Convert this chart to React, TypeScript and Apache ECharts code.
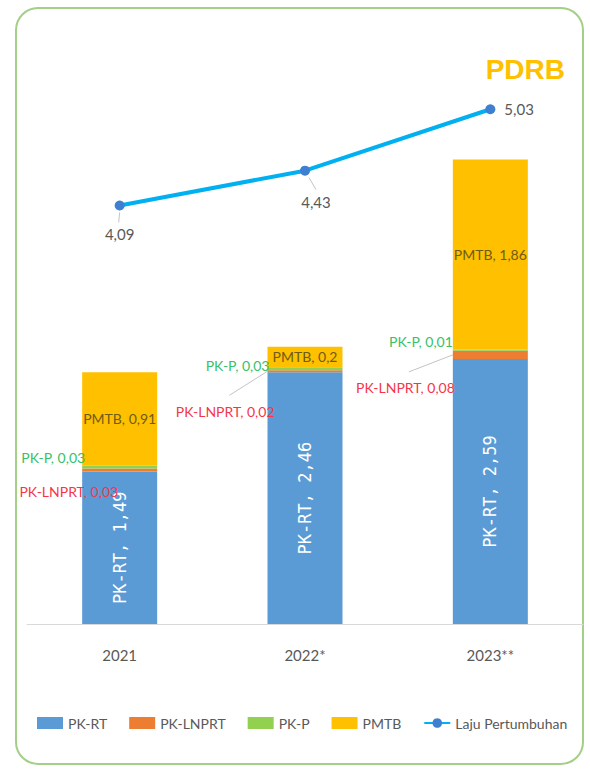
import React, { useEffect, useRef } from "react";
import * as echarts from "echarts";

const categories = ["2021", "2022*", "2023**"];
const pkRT = [1.49, 2.46, 2.59];
const pkLNPRT = [0.03, 0.02, 0.08];
const pkP = [0.03, 0.03, 0.01];
const pmtb = [0.91, 0.2, 1.86];
const laju = [4.09, 4.43, 5.03];

// label offsets (styling only)
const lnprtOffsets = [[41, 22], [12, 40], [7, 33]];
const pkpOffsets = [[8, -9], [7, -3], [5, -9]];
// leader-line shapes relative to anchor (styling only)
const lnprtGuides = [null, [-38, 24], [-44, 17]];
const lajuGuides = [[[0, 7], [-1, 17]], [[4, 7], [11, 19]], null];

const FONT = "Lato, 'Open Sans', sans-serif";
const fmt = (v: number) => String(v).replace(".", ",");
const BAR_W = 75;

export default function App() {
  const ref = useRef<HTMLDivElement>(null);
  useEffect(() => {
    if (!ref.current) return;
    const chart = echarts.init(ref.current, undefined, { renderer: "svg" });
    const border = {
      type: "rect",
      shape: { x: 16, y: 8, width: 567, height: 756, r: 22 },
      style: { fill: "none", stroke: "#a3cf86", lineWidth: 2 },
      silent: true,
    };
    chart.setOption({
      animation: false,
      backgroundColor: "#ffffff",
      textStyle: { fontFamily: FONT },
      title: {
        text: "PDRB",
        right: 20,
        top: 50,
        textStyle: { color: "#ffc000", fontSize: 28, fontWeight: "bold", fontFamily: "'Liberation Sans', Arial, sans-serif" },
      },
      graphic: [border],
      legend: {
        left: 37,
        top: 716,
        padding: 0,
        itemWidth: 26,
        itemHeight: 12,
        itemGap: 22,
        textStyle: { color: "#595959", fontSize: 14, fontFamily: FONT },
        data: [
          { name: "PK-RT", icon: "rect" },
          { name: "PK-LNPRT", icon: "rect" },
          { name: "PK-P", icon: "rect" },
          { name: "PMTB", icon: "rect" },
          { name: "Laju Pertumbuhan" },
        ],
      },
      grid: { left: 27, right: 7, top: 10, bottom: 145 },
      xAxis: {
        type: "category",
        data: categories,
        axisLine: { lineStyle: { color: "#d9d9d9", width: 1 } },
        axisTick: { show: false },
        axisLabel: { color: "#595959", fontSize: 15, margin: 23, fontFamily: FONT },
      },
      yAxis: { type: "value", min: 0, max: 6, show: false, splitLine: { show: false } },
      series: [
        {
          name: "PK-RT",
          type: "bar",
          stack: "a",
          barWidth: BAR_W,
          itemStyle: { color: "#5b9bd5" },
          label: {
            show: true,
            position: "inside",
            rotate: 90,
            color: "#ffffff",
            fontSize: 17,
            fontFamily: "'DejaVu Sans Mono', monospace",
            formatter: (p: any) => `PK-RT, ${fmt(p.value)}`,
          },
          data: pkRT,
        },
        {
          name: "PK-LNPRT",
          type: "bar",
          stack: "a",
          itemStyle: { color: "#ed7d31" },
          label: {
            show: true,
            position: "left",
            distance: 5,
            color: "#f5364a",
            fontSize: 14,
            formatter: (p: any) => `PK-LNPRT, ${fmt(p.value)}`,
          },
          data: pkLNPRT.map((v, i) => ({ value: v, label: { offset: lnprtOffsets[i] } })),
        },
        {
          name: "PK-P",
          type: "bar",
          stack: "a",
          itemStyle: { color: "#92d050" },
          label: {
            show: true,
            position: "left",
            distance: 5,
            color: "#35c26a",
            fontSize: 14,
            formatter: (p: any) => `PK-P, ${fmt(p.value)}`,
          },
          data: pkP.map((v, i) => ({ value: v, label: { offset: pkpOffsets[i] } })),
        },
        {
          name: "PMTB",
          type: "bar",
          stack: "a",
          itemStyle: { color: "#ffc000" },
          label: {
            show: true,
            position: "inside",
            color: "#6e5c14",
            fontSize: 14,
            formatter: (p: any) => `PMTB, ${fmt(p.value)}`,
          },
          data: pmtb,
        },
        {
          name: "Laju Pertumbuhan",
          type: "line",
          z: 5,
          symbol: "circle",
          symbolSize: 10,
          lineStyle: { color: "#00b0f0", width: 4 },
          itemStyle: { color: "#3f7fd0" },
          label: {
            show: true,
            color: "#595959",
            fontSize: 15,
            formatter: (p: any) => fmt(p.value),
          },
          data: [
            { value: laju[0], label: { position: "bottom", distance: 16 } },
            { value: laju[1], label: { position: "bottom", distance: 19, offset: [11, 0] } },
            { value: laju[2], label: { position: "right", distance: 9 } },
          ],
        },
      ],
    });

    // faint leader lines, anchored through the chart's own scales
    const guides: any[] = [];
    const gStyle = { stroke: "#c4c4c4", lineWidth: 1 };
    categories.forEach((_, i) => {
      const g = lnprtGuides[i];
      if (g) {
        const mid = pkRT[i] + pkLNPRT[i] / 2;
        const [cx, cy] = chart.convertToPixel({ xAxisIndex: 0, yAxisIndex: 0 }, [i, mid]) as number[];
        const x = cx - BAR_W / 2;
        guides.push({ type: "line", silent: true, shape: { x1: x + g[0], y1: cy + g[1], x2: x, y2: cy }, style: gStyle });
      }
      const lg = lajuGuides[i];
      if (lg) {
        const [px, py] = chart.convertToPixel({ xAxisIndex: 0, yAxisIndex: 0 }, [i, laju[i]]) as number[];
        guides.push({
          type: "line",
          silent: true,
          shape: { x1: px + lg[0][0], y1: py + lg[0][1], x2: px + lg[1][0], y2: py + lg[1][1] },
          style: gStyle,
        });
      }
    });
    chart.setOption({ graphic: [border, ...guides] });

    return () => chart.dispose();
  }, []);
  return (
    <div
      ref={ref}
      style={{ position: "fixed", left: 0, top: 0, width: 590, height: 769 }}
    />
  );
}
